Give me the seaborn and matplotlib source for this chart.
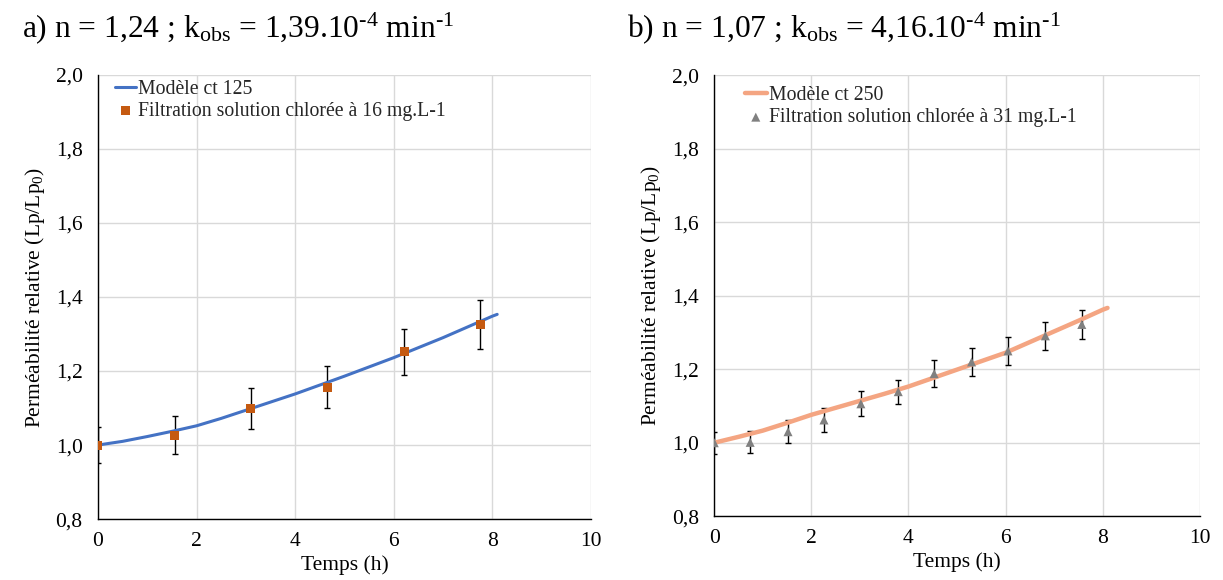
import matplotlib
matplotlib.use("Agg")
import matplotlib.pyplot as plt
import seaborn as sns
import pandas as pd
import numpy as np

# --- data ---
# a) ct 125 / 16 mg.L-1
t_exp_a = [0.0, 1.56, 3.10, 4.65, 6.21, 7.76]
lp_exp_a = [1.000, 1.027, 1.098, 1.156, 1.252, 1.325]
err_a = [0.049, 0.051, 0.055, 0.057, 0.062, 0.066]
t_mod_a = [0, 0.5, 1, 1.5, 2, 2.5, 3, 3.5, 4, 4.5, 5, 5.5, 6, 6.5, 7, 7.5, 8, 8.1]
lp_mod_a = [1.000, 1.010, 1.023, 1.037, 1.052, 1.072, 1.094, 1.116, 1.138, 1.162,
            1.186, 1.211, 1.236, 1.263, 1.290, 1.319, 1.348, 1.353]

# b) ct 250 / 31 mg.L-1
t_exp_b = [0.0, 0.74, 1.52, 2.26, 3.02, 3.79, 4.53, 5.30, 6.05, 6.82, 7.57]
lp_exp_b = [1.000, 1.001, 1.030, 1.062, 1.106, 1.139, 1.188, 1.220, 1.250, 1.291, 1.322]
err_b = [0.030, 0.030, 0.032, 0.032, 0.034, 0.033, 0.036, 0.037, 0.038, 0.039, 0.040]
t_mod_b = [0, 0.5, 1, 1.5, 2, 2.5, 3, 3.5, 4, 4.5, 5, 5.5, 6, 6.5, 7, 7.5, 8, 8.1]
lp_mod_b = [1.000, 1.016, 1.033, 1.054, 1.076, 1.095, 1.114, 1.133, 1.153, 1.176,
            1.199, 1.222, 1.245, 1.274, 1.303, 1.332, 1.362, 1.367]

# hyphen (U+2010) in exponents, like the original Word text
titles = ["a) n = 1,24 ; k$_\\mathregular{obs}$ = 1,39.10$^\\mathregular{\u20104}$ min$^\\mathregular{\u20101}$",
          "b) n = 1,07 ; k$_\\mathregular{obs}$ = 4,16.10$^\\mathregular{\u20104}$ min$^\\mathregular{\u20101}$"]
model_labels = ["Modèle ct 125", "Modèle ct 250"]
exp_labels = ["Filtration solution chlorée à 16 mg.L-1", "Filtration solution chlorée à 31 mg.L-1"]

sns.set_theme(style="whitegrid")
plt.rcParams['font.family'] = ['Liberation Serif', 'DejaVu Serif']
plt.rcParams['mathtext.fontset'] = 'custom'
plt.rcParams['mathtext.rm'] = 'Liberation Serif'
plt.rcParams['mathtext.it'] = 'Liberation Serif'
plt.rcParams['axes.unicode_minus'] = False

fig = plt.figure(figsize=(12.23, 5.8), dpi=100)
ax_a = fig.add_axes([0.0801, 0.105, 0.403, 0.766])
ax_b = fig.add_axes([0.584, 0.110, 0.397, 0.760])

panels = [
    (ax_a, t_mod_a, lp_mod_a, t_exp_a, lp_exp_a, err_a, "#4472C4", 2.2, "#C55A11", "s", 6.5, (0.018, 1.006)),
    (ax_b, t_mod_b, lp_mod_b, t_exp_b, lp_exp_b, err_b, "#F4A582", 3.2, "#808080", "^", 6.5, (0.047, 0.993)),
]

for i, (ax, tm, lm, te, le, er, lc, lw, mc, mk, ms, lpos) in enumerate(panels):
    df_mod = pd.DataFrame({"t": tm, "lp": lm})
    df_exp = pd.DataFrame({"t": te, "lp": le, "err": er})
    ax.errorbar(df_exp["t"], df_exp["lp"], yerr=df_exp["err"], fmt="none",
                ecolor="black", elinewidth=1.0, capsize=2.5, capthick=1.0, zorder=2)
    sns.lineplot(data=df_mod, x="t", y="lp", ax=ax, color=lc, linewidth=lw,
                 label=model_labels[i], zorder=3)
    sns.scatterplot(data=df_exp, x="t", y="lp", ax=ax, color=mc, marker=mk, s=ms ** 2,
                    edgecolor="none", label=exp_labels[i], zorder=4)

    ax.set_xlim(0, 10)
    ax.set_ylim(0.8, 2.0)
    ax.set_xticks(np.arange(0, 11, 2))
    ax.set_yticks(np.arange(0.8, 2.01, 0.2))
    ax.set_yticklabels([f"{v:.1f}".replace(".", ",") for v in np.arange(0.8, 2.01, 0.2)])
    ax.tick_params(labelsize=15.5, colors="black", length=0)
    ax.tick_params(axis="y", pad=11)
    ax.tick_params(axis="x", pad=9)
    ax.grid(True, color="#D9D9D9", linewidth=1.0)
    ax.set_facecolor("white")
    for side in ["top", "right"]:
        ax.spines[side].set_visible(False)
    for side in ["left", "bottom"]:
        ax.spines[side].set_color("black")
        ax.spines[side].set_linewidth(1.0)
    ax.set_xlabel("Temps (h)", fontsize=15.5, color="black", labelpad=3)
    ax.set_ylabel("Perméabilité relative (Lp/Lp$_\\mathregular{0}$)", fontsize=15.5,
                  color="black", labelpad=6)
    ax.legend(loc="upper left", bbox_to_anchor=lpos, frameon=False,
              fontsize=14.2, handlelength=1.1, handletextpad=0.1,
              labelspacing=0.15, borderaxespad=0.0)

fig.text(0.018, 0.952, titles[0], fontsize=22.7, color="black", va="center")
fig.text(0.513, 0.952, titles[1], fontsize=22.7, color="black", va="center")

fig.savefig("out.png", dpi=100, facecolor="white")
